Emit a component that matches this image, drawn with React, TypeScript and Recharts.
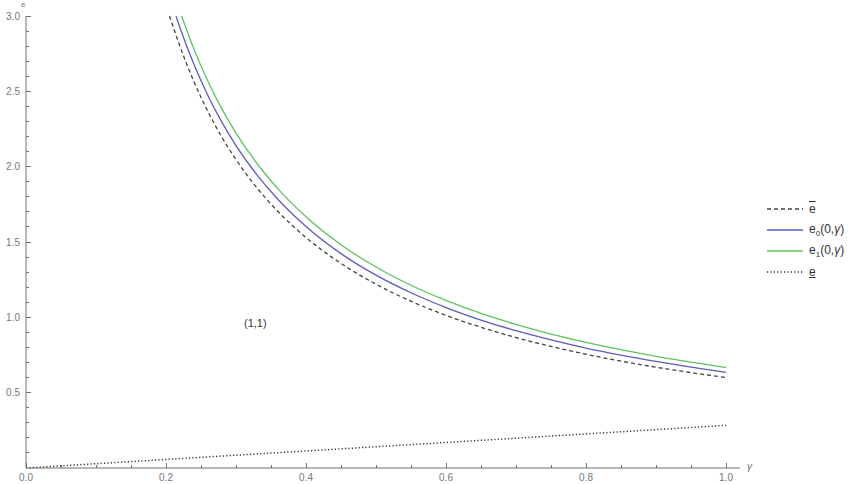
import React from "react";
import { LineChart, Line, XAxis, YAxis } from "recharts";

// γ samples and values
const GAMMA_BAR = [0.205, 0.22, 0.24, 0.26, 0.28, 0.3, 0.33, 0.36, 0.4, 0.45, 0.5, 0.55, 0.6, 0.65, 0.7, 0.75, 0.8, 0.85, 0.9, 0.95, 1.0];
const E_BAR = [3.0, 2.798, 2.563, 2.365, 2.194, 2.047, 1.859, 1.702, 1.53, 1.358, 1.22, 1.107, 1.013, 0.934, 0.866, 0.807, 0.755, 0.709, 0.669, 0.633, 0.6];

const GAMMA_E0 = [0.2143, 0.22, 0.24, 0.26, 0.28, 0.3, 0.33, 0.36, 0.4, 0.45, 0.5, 0.55, 0.6, 0.65, 0.7, 0.75, 0.8, 0.85, 0.9, 0.95, 1.0];
const E_0 = [3.0, 2.922, 2.678, 2.471, 2.294, 2.14, 1.945, 1.782, 1.603, 1.423, 1.28, 1.163, 1.065, 0.982, 0.911, 0.85, 0.796, 0.749, 0.707, 0.669, 0.635];

const GAMMA_E1 = [0.2223, 0.24, 0.26, 0.28, 0.3, 0.33, 0.36, 0.4, 0.45, 0.5, 0.55, 0.6, 0.65, 0.7, 0.75, 0.8, 0.85, 0.9, 0.95, 1.0];
const E_1 = [3.0, 2.779, 2.565, 2.382, 2.223, 2.021, 1.853, 1.668, 1.482, 1.334, 1.213, 1.112, 1.026, 0.953, 0.889, 0.834, 0.785, 0.741, 0.702, 0.667];

const GAMMA_LOW = [0, 0.25, 0.5, 0.75, 1.0];
const E_LOW = [0, 0.071, 0.141, 0.212, 0.283];

const X_TICKS = [0, 0.05, 0.1, 0.15, 0.2, 0.25, 0.3, 0.35, 0.4, 0.45, 0.5, 0.55, 0.6, 0.65, 0.7, 0.75, 0.8, 0.85, 0.9, 0.95, 1.0];
const Y_TICKS = [0.1, 0.2, 0.3, 0.4, 0.5, 0.6, 0.7, 0.8, 0.9, 1.0, 1.1, 1.2, 1.3, 1.4, 1.5, 1.6, 1.7, 1.8, 1.9, 2.0, 2.1, 2.2, 2.3, 2.4, 2.5, 2.6, 2.7, 2.8, 2.9, 3.0];

const toPoints = (gs: number[], vs: number[]) => gs.map((g, i) => ({ g, v: vs[i] }));

const isMajor = (v: number, step: number) => Math.abs(v / step - Math.round(v / step)) < 1e-6;

const AXIS = "#6f6f6f";
const LABEL = "#777";
const FONT = "'Liberation Sans', Arial, sans-serif";

function XTick({ x, y, payload }: any) {
  const v = payload.value as number;
  const major = isMajor(v, 0.2);
  return (
    <g>
      <path d={`M${x},${y}V${y - (major ? 5 : 3)}`} stroke={AXIS} strokeWidth={1} fill="none" shapeRendering="crispEdges" />
      {major && (
        <text x={x} y={y + 13} textAnchor="middle" fontSize={10} fill={LABEL} fontFamily={FONT}>
          {v.toFixed(1)}
        </text>
      )}
    </g>
  );
}

function YTick({ x, y, payload }: any) {
  const v = payload.value as number;
  const major = isMajor(v, 0.5);
  return (
    <g>
      <path d={`M${x},${y}H${x + (major ? 5 : 3)}`} stroke={AXIS} strokeWidth={1} fill="none" shapeRendering="crispEdges" />
      {major && (
        <text x={x - 6} y={y + 3.5} textAnchor="end" fontSize={10} fill={LABEL} fontFamily={FONT}>
          {v.toFixed(1)}
        </text>
      )}
    </g>
  );
}

const legendRows = [
  { key: "bar", color: "#444", dash: "4 3", label: <span style={{ textDecoration: "overline" }}>e</span> },
  { key: "e0", color: "#5b5bc4", dash: undefined, label: <span>e<sub style={{ fontSize: 8 }}>0</sub>(0,<i>γ</i>)</span> },
  { key: "e1", color: "#5cc45c", dash: undefined, label: <span>e<sub style={{ fontSize: 8 }}>1</sub>(0,<i>γ</i>)</span> },
  { key: "low", color: "#333", dash: "1.2 2.2", label: <span style={{ textDecoration: "underline" }}>e</span> },
];

export default function App() {
  return (
    <div style={{ position: "absolute", left: 0, top: 0, width: 848, height: 484, background: "#fff", fontFamily: FONT }}>
      <LineChart width={848} height={484} margin={{ top: 16, right: 108, bottom: 0, left: 0 }}>
        <XAxis
          type="number"
          dataKey="g"
          domain={[0, 1.02]}
          ticks={X_TICKS}
          interval={0}
          height={16}
          tickSize={0}
          tickMargin={0}
          tickLine={false}
          tick={<XTick />}
          stroke={AXIS}
          allowDuplicatedCategory={false}
        />
        <YAxis
          type="number"
          dataKey="v"
          domain={[0, 3]}
          ticks={Y_TICKS}
          interval={0}
          width={26}
          tickSize={0}
          tickMargin={0}
          tickLine={false}
          tick={<YTick />}
          stroke={AXIS}
        />
        <Line data={toPoints(GAMMA_BAR, E_BAR)} dataKey="v" type="monotone" stroke="#444" strokeWidth={1.3} strokeDasharray="4 3" dot={false} isAnimationActive={false} />
        <Line data={toPoints(GAMMA_E0, E_0)} dataKey="v" type="monotone" stroke="#5b5bc4" strokeWidth={1.3} dot={false} isAnimationActive={false} />
        <Line data={toPoints(GAMMA_E1, E_1)} dataKey="v" type="monotone" stroke="#5cc45c" strokeWidth={1.3} dot={false} isAnimationActive={false} />
        <Line data={toPoints(GAMMA_LOW, E_LOW)} dataKey="v" type="linear" stroke="#333" strokeWidth={1.5} strokeDasharray="1.2 2.2" dot={false} isAnimationActive={false} />
      </LineChart>

      <div style={{ position: "absolute", left: 21, top: 0, fontSize: 8, color: LABEL }}>e</div>
      <div style={{ position: "absolute", left: 747, top: 461, fontSize: 10, color: LABEL, fontStyle: "italic" }}>γ</div>
      <div style={{ position: "absolute", left: 244, top: 317, fontSize: 11, color: "#333" }}>(1,1)</div>

      {legendRows.map((r, i) => (
        <div key={r.key} style={{ position: "absolute", left: 767, top: 209 + i * 21 - 8, height: 16, display: "flex", alignItems: "center" }}>
          <svg width={36} height={16}>
            <line x1={0} y1={8} x2={36} y2={8} stroke={r.color} strokeWidth={1.5} strokeDasharray={r.dash} />
          </svg>
          <span style={{ marginLeft: 6, fontSize: 12, color: "#333", whiteSpace: "nowrap" }}>{r.label}</span>
        </div>
      ))}
    </div>
  );
}
